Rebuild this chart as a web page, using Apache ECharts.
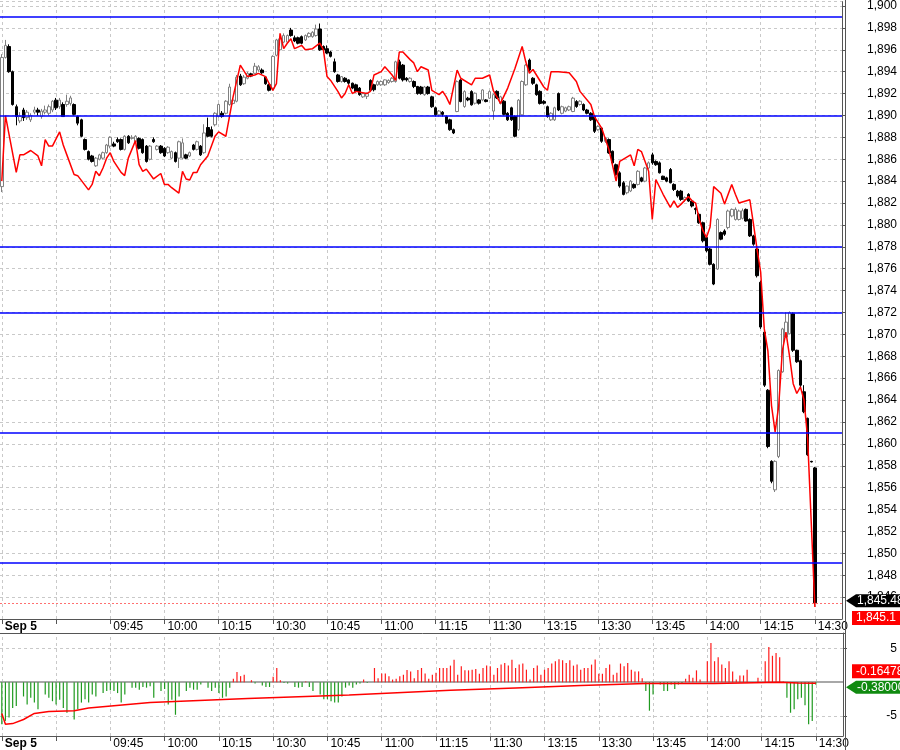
<!DOCTYPE html>
<html>
<head>
<meta charset="utf-8">
<script src="https://cdn.jsdelivr.net/npm/echarts@6.0.0/dist/echarts.min.js"></script>
<style>
html,body{margin:0;padding:0;background:#ffffff;}
#chart{width:900px;height:750px;}
</style>
</head>
<body>
<div id="chart"></div>
<script>
// ---------- DATA ----------
const sessions = [['09:15', '11:30'], ['13:01', '14:30']];
const padBars = 7;
const dateLabel = 'Sep 5';
const tickTimes = ['09:15','09:30','09:45','10:00','10:15','10:30','10:45','11:00','11:15','11:30','13:15','13:30','13:45','14:00','14:15','14:30'];
const labelTimes = ['09:15','09:45','10:00','10:15','10:30','10:45','11:00','11:15','11:30','13:15','13:30','13:45','14:00','14:15','14:30'];
const levels = [1899.0, 1890.0, 1878.0, 1872.0, 1861.0, 1849.1];

// candles: [open, close, low, high], one per minute
const candlesMorning = [
[1883.5,1895.3,1883.0,1895.6],[1895.3,1896.4,1895.2,1896.9],[1896.3,1894.0,1893.9,1896.5],[1894.0,1891.0,1890.9,1894.1],
[1890.8,1889.9,1889.1,1891.0],[1889.5,1889.9,1889.3,1890.3],[1890.5,1889.8,1889.5,1890.7],[1889.8,1890.3,1889.6,1890.5],
[1889.6,1890.0,1889.4,1890.2],[1890.3,1890.5,1890.1,1890.8],[1890.5,1890.3,1890.0,1890.7],[1889.9,1890.4,1889.7,1890.6],
[1890.3,1890.5,1890.1,1890.9],[1890.2,1890.8,1890.0,1891.0],[1890.5,1891.3,1890.3,1891.4],[1891.4,1890.7,1890.5,1891.6],
[1890.8,1891.4,1890.6,1891.6],[1891.0,1889.9,1889.9,1891.2],[1891.0,1891.3,1890.8,1891.9],[1891.1,1891.6,1890.9,1891.8],
[1891.0,1890.1,1890.0,1891.1],[1889.9,1889.3,1889.1,1890.0],[1889.6,1888.1,1888.0,1889.7],[1887.8,1886.9,1886.8,1887.9],
[1886.7,1886.0,1885.9,1886.8],[1886.3,1885.8,1885.7,1886.4],[1885.4,1886.1,1885.3,1886.2],[1886.0,1886.4,1885.9,1886.5],
[1886.1,1886.6,1886.0,1886.7],[1886.6,1887.3,1886.5,1887.4],[1887.2,1888.0,1887.0,1888.1],[1887.4,1887.2,1887.1,1887.6],
[1887.8,1887.6,1887.5,1888.0],[1887.8,1886.9,1886.8,1887.9],[1886.9,1888.1,1886.8,1888.2],[1888.1,1887.5,1887.4,1888.2],
[1887.9,1888.0,1887.8,1888.2],[1887.6,1888.1,1887.5,1888.2],[1887.9,1887.0,1886.9,1888.0],[1887.8,1886.6,1886.5,1887.9],
[1887.2,1885.8,1885.7,1887.3],[1886.0,1887.2,1885.9,1887.3],[1887.8,1887.6,1887.5,1888.0],[1886.9,1887.2,1886.8,1887.3],
[1887.2,1886.6,1886.5,1887.3],[1887.0,1886.3,1886.2,1887.1],[1886.6,1887.1,1886.5,1887.2],[1886.1,1886.7,1886.0,1886.8],
[1886.6,1885.8,1885.7,1886.7],[1886.1,1887.6,1885.2,1887.7],[1886.1,1887.5,1886.0,1887.9],[1886.4,1886.1,1886.0,1886.5],
[1886.3,1886.6,1886.2,1886.7],[1887.3,1886.9,1886.8,1887.4],[1886.9,1887.6,1886.8,1887.7],[1887.2,1886.4,1886.3,1887.3],
[1886.6,1888.4,1886.5,1889.2],[1888.9,1888.1,1888.0,1889.8],
[1888.7,1888.1,1888.0,1889.0],[1889.15,1890.2,1889.0,1890.3],[1889.9,1891.0,1889.8,1891.1],[1890.2,1889.9,1889.8,1890.4],
[1890.2,1891.3,1890.1,1891.4],[1891.0,1892.6,1890.9,1892.9],[1891.1,1891.4,1891.0,1891.6],[1891.3,1893.5,1891.2,1893.7],
[1893.6,1892.8,1892.7,1893.8],[1892.9,1893.5,1892.8,1893.7],[1893.4,1893.85,1893.3,1894.0],[1893.8,1893.6,1893.5,1893.9],
[1893.85,1894.5,1893.8,1894.8],[1894.15,1894.45,1894.0,1894.6],[1894.15,1893.9,1893.8,1894.3],[1893.5,1892.9,1892.8,1893.6],
[1892.8,1892.3,1892.2,1892.9],[1892.5,1895.4,1892.4,1895.5],[1895.5,1896.9,1895.4,1897.0],[1896.0,1897.0,1895.9,1897.2],
[1896.7,1897.3,1896.6,1897.5],[1896.7,1897.3,1896.6,1897.4],[1897.8,1897.3,1897.2,1898.0],[1897.1,1896.8,1896.7,1897.3],
[1897.1,1896.6,1896.5,1897.2],[1897.2,1896.6,1896.5,1897.3],[1896.9,1897.3,1896.8,1897.4],[1897.2,1897.5,1897.1,1897.6],
[1897.2,1897.6,1897.1,1897.7],[1897.3,1897.9,1897.2,1898.3],[1897.9,1896.0,1895.9,1898.4],[1896.3,1896.0,1895.9,1896.4],
[1896.1,1895.7,1895.6,1896.4],[1895.8,1895.4,1895.3,1895.9],[1894.9,1894.0,1893.9,1895.2],[1893.7,1893.1,1893.0,1893.8],
[1893.1,1893.55,1893.0,1893.6],[1893.4,1893.1,1893.0,1893.5],[1893.25,1892.95,1892.8,1893.3],[1892.95,1892.5,1892.4,1893.0],
[1892.8,1892.2,1892.1,1892.9],[1892.5,1891.9,1891.8,1892.6],[1891.7,1892.0,1891.6,1892.1],[1891.75,1892.0,1891.5,1892.1],
[1893.2,1892.3,1892.2,1893.3],[1892.8,1892.35,1892.2,1892.9],[1892.8,1893.1,1892.7,1893.2],[1892.8,1893.1,1892.7,1893.2],
[1892.8,1893.25,1892.7,1893.3],[1893.0,1893.2,1892.9,1893.3],[1893.1,1893.4,1893.0,1893.5],[1893.1,1894.9,1893.0,1895.0],
[1894.9,1893.4,1893.3,1895.1],[1894.6,1893.25,1893.1,1894.7],[1893.4,1893.25,1893.1,1893.5],[1893.1,1893.4,1893.0,1893.5],
[1893.1,1892.65,1892.5,1893.2],[1892.65,1892.0,1891.9,1892.7],[1892.6,1892.0,1891.9,1892.7],[1891.9,1892.6,1891.8,1892.7],
[1892.6,1892.0,1891.9,1892.7],
[1891.7,1890.8,1890.7,1891.8],[1890.7,1890.06,1889.9,1890.8],[1890.06,1890.4,1889.9,1890.5],[1890.3,1890.1,1889.9,1890.4],
[1889.9,1889.3,1889.2,1890.0],[1889.6,1888.7,1888.6,1889.7],[1888.7,1888.4,1888.3,1888.8],
[1890.36,1893.09,1890.3,1893.2],[1893.24,1891.27,1891.2,1893.3],[1890.82,1892.18,1890.7,1892.3],[1891.58,1891.42,1891.3,1891.7],
[1892.18,1890.97,1890.9,1892.3],[1891.12,1892.03,1891.0,1892.1],[1891.42,1891.12,1891.0,1891.5],[1891.42,1892.33,1891.3,1892.4],
[1891.42,1891.27,1891.2,1891.5],[1891.58,1892.18,1891.5,1892.3]
];
const candlesAfternoon = [
[1890.4,1891.9,1889.6,1892.0],[1892.2,1891.6,1891.5,1892.3],[1891.1,1891.7,1891.0,1891.8],[1891.3,1890.1,1890.0,1891.4],
[1890.2,1889.6,1889.5,1890.3],[1890.7,1889.6,1889.5,1890.8],[1889.9,1888.1,1888.0,1890.0],[1888.7,1891.4,1888.6,1891.5],
[1890.06,1893.1,1890.0,1893.2],[1892.8,1894.6,1892.7,1894.7],[1895.06,1894.15,1894.0,1895.2],[1893.4,1892.94,1892.8,1893.5],
[1892.8,1891.9,1891.8,1892.9],[1892.2,1891.1,1891.0,1892.3],[1891.27,1891.12,1891.0,1891.4],[1890.8,1889.9,1889.8,1890.9],
[1889.6,1890.2,1889.5,1890.3],[1889.6,1890.7,1889.5,1890.8],[1892.0,1890.5,1890.4,1892.1],[1890.2,1890.8,1890.1,1890.9],
[1890.4,1890.7,1890.3,1890.8],[1890.5,1890.8,1890.4,1890.9],[1890.36,1891.58,1890.3,1891.7],[1891.27,1890.82,1890.7,1891.4],
[1891.0,1891.3,1890.9,1891.4],[1891.0,1890.5,1890.4,1891.1],[1890.5,1890.2,1890.1,1890.6],[1890.2,1889.6,1889.5,1890.3],
[1889.9,1888.55,1888.4,1890.0],[1888.7,1889.0,1888.6,1889.1],[1888.85,1887.64,1887.5,1888.9],[1887.64,1887.94,1887.5,1888.0],
[1887.8,1886.58,1886.5,1887.9],[1886.73,1885.67,1885.5,1886.8],[1885.5,1884.6,1884.5,1885.6],[1884.76,1883.55,1883.4,1884.9],
[1883.85,1882.79,1882.7,1884.0],[1882.94,1883.55,1882.8,1883.6],[1883.1,1884.0,1883.0,1884.1],[1883.7,1883.4,1883.3,1883.8],
[1883.7,1884.9,1883.6,1885.0],[1884.3,1884.0,1883.9,1884.4],[1884.0,1885.2,1883.9,1885.3],[1885.2,1885.67,1885.1,1885.8],
[1886.4,1885.67,1885.5,1886.6],[1885.8,1885.5,1885.4,1885.9],[1885.67,1884.76,1884.7,1885.8],[1884.45,1884.15,1884.1,1884.5],
[1884.3,1884.0,1883.9,1884.4],[1885.06,1883.85,1883.8,1885.2],[1883.7,1883.24,1883.1,1883.8],[1883.09,1882.64,1882.5,1883.2],
[1883.09,1882.33,1882.2,1883.2],[1882.3,1882.5,1882.1,1882.6],[1882.79,1882.18,1882.1,1882.9],[1882.18,1881.73,1881.6,1882.3],
[1881.5,1881.4,1880.97,1881.6],[1880.97,1880.2,1880.1,1881.1],[1880.2,1878.55,1878.4,1880.3],[1878.85,1877.64,1877.5,1879.0],
[1877.8,1876.4,1876.3,1877.9],[1876.4,1874.6,1874.5,1876.5],[1875.97,1880.5,1875.9,1880.6],[1879.3,1878.7,1878.6,1879.4],
[1879.45,1879.15,1879.0,1879.6],[1879.76,1881.27,1879.6,1881.4],[1880.82,1881.42,1880.7,1881.5],[1880.5,1881.42,1880.4,1881.6],
[1880.5,1881.27,1880.4,1881.4],[1880.6,1881.3,1880.5,1881.5],[1881.42,1880.36,1880.3,1881.5],[1880.5,1879.0,1878.9,1880.6],
[1879.0,1878.24,1878.1,1879.1],[1877.8,1875.36,1875.2,1877.9],[1874.76,1870.67,1870.5,1874.9],[1870.2,1865.36,1865.2,1870.3],
[1864.9,1859.76,1859.6,1865.0],[1858.4,1856.58,1856.4,1858.5],[1855.8,1858.4,1855.6,1858.5],[1858.85,1866.7,1858.7,1866.8],
[1866.58,1870.5,1866.5,1870.6],[1869.76,1871.12,1869.7,1872.03],[1870.06,1872.0,1870.0,1872.1],[1871.88,1868.55,1868.4,1872.0],
[1868.55,1867.5,1867.4,1868.6],[1867.6,1865.36,1865.2,1867.7],[1864.76,1862.94,1862.8,1865.36],[1862.33,1859.0,1858.9,1862.4],
[1858.4,1858.35,1858.3,1858.45],[1857.8,1845.48,1845.36,1857.9]
];

// red comparison line: [bar index, value]
const redLine = [
[0,1884.0],[1,1890.0],[4,1884.8],[5,1886.4],[6,1886.4],[8,1886.8],[10,1886.3],[11,1885.4],[12,1887.8],[13,1887.2],[14,1887.2],
[16,1888.5],[17,1887.3],[18,1886.4],[20,1884.6],[21,1884.5],[24,1883.2],[25,1883.7],[26,1884.9],[27,1884.5],[28,1885.2],[29,1886.1],
[30,1886.6],[31,1885.8],[33,1884.8],[34,1884.5],[35,1886.1],[37,1887.7],[38,1885.5],[39,1884.9],[40,1885.1],[42,1884.2],[44,1884.7],
[45,1883.7],[46,1883.7],[47,1883.4],[49,1882.9],[50,1884.9],[51,1884.2],[52,1884.1],[53,1884.8],[54,1884.8],[55,1885.5],[57,1886.3],
[59,1888.1],[60,1888.5],[62,1888.1],[63,1889.9],[64,1891.7],[66,1894.6],[68,1893.55],[70,1893.7],[71,1893.85],[73,1893.55],[74,1892.9],
[75,1892.3],[76,1892.9],[77,1897.5],[78,1896.1],[79,1896.6],[80,1897.0],[81,1896.1],[83,1896.4],[84,1896.0],[86,1896.1],[88,1896.6],
[89,1896.0],[90,1893.55],[91,1893.2],[93,1892.2],[94,1891.6],[95,1892.0],[96,1892.8],[97,1892.0],[98,1892.2],[101,1892.0],[102,1892.2],
[103,1893.7],[105,1894.0],[106,1894.45],[108,1893.7],[109,1893.2],[110,1895.8],[111,1895.8],[113,1895.1],[114,1894.8],[115,1894.0],
[116,1894.45],[118,1894.15],[119,1892.3],[121,1891.9],[122,1892.2],[123,1891.7],[124,1891.0],[126,1894.15],[127,1893.4],[130,1892.8],
[131,1893.4],[133,1893.4],[135,1893.7],[136,1892.3],[138,1891.1],[140,1892.5],[142,1894.3],[144,1896.3],[145,1894.9],[146,1893.85],
[147,1894.2],[150,1892.6],[151,1892.3],[152,1894.0],[154,1894.0],[157,1893.9],[159,1893.1],[160,1892.2],[163,1891.0],[164,1889.9],
[166,1888.85],[168,1886.9],[170,1884.0],[171,1885.8],[174,1886.4],[175,1885.4],[176,1886.9],[177,1886.7],[179,1884.9],[180,1880.5],
[181,1884.15],[183,1882.8],[185,1881.6],[186,1882.2],[187,1881.6],[188,1881.9],[190,1882.6],[191,1882.2],[192,1882.0],[193,1880.5],
[194,1879.5],[195,1878.85],[196,1879.8],[197,1883.5],[199,1882.9],[200,1881.9],[202,1883.7],[203,1882.8],[204,1882.0],[207,1882.3],
[208,1880.1],[209,1877.8],[210,1875.7],[211,1870.5],[212,1868.5],[213,1863.5],[214,1861.1],[215,1863.5],[216,1868.5],[217,1870.2],
[218,1868.0],[219,1865.5],[220,1864.6],[221,1865.2],[222,1864.0],[223,1860.5],[224,1852.8],[225,1845.1]
];

// lower panel histogram: [bar index, value]
const lowerBars = [
[0,-6.2],[1,-5.7],[2,-5.2],[3,-3.8],[4,-3.5],[6,-2.1],[7,-3.3],[8,-2.3],[9,-3.0],[10,-4.0],[12,-1.8],[13,-2.3],[14,-2.8],[15,-3.3],
[16,-2.6],[17,-3.8],[18,-4.5],[20,-5.5],[21,-4.0],[22,-3.0],[23,-2.5],[24,-3.0],[25,-1.8],[26,-2.1],[28,-1.6],[29,-1.3],[30,-1.2],
[31,-1.3],[32,-1.6],[33,-3.0],[34,-1.8],[36,-0.8],[37,-0.8],[38,-1.1],[39,-0.7],[40,-0.8],[41,-0.6],[42,-2.3],[44,-1.3],[45,-1.0],
[46,-3.3],[47,-2.6],[48,-4.8],[49,-2.1],[51,-1.3],[52,-0.8],[53,-1.1],[54,-1.1],[55,-0.35],[57,-0.8],[58,-1.3],[59,-0.8],[60,-1.6],
[61,-2.3],[62,-2.1],[63,-0.8],[64,0.5],[65,1.5],[66,0.9],[67,1.1],[69,0.3],[70,-0.2],[72,-0.5],[73,-0.7],[74,-0.7],[75,0.8],[76,2.1],
[77,0.3],[78,-0.1],[79,-0.2],[81,-0.7],[82,-0.8],[83,-0.7],[84,0.1],[85,-0.7],[86,-1.3],[88,-1.8],[89,-2.5],[90,-2.5],[91,-2.8],
[92,-3.0],[93,-3.0],[94,-2.1],[95,-0.8],[96,-0.5],[97,-0.8],[98,-0.35],[99,-0.2],[100,0.4],[101,-0.1],[103,2.1],[104,0.6],[105,1.3],
[106,1.3],[107,0.9],[108,0.4],[109,0.5],[110,0.9],[111,1.1],[112,1.8],[113,1.6],[114,0.6],[115,1.8],[116,2.1],[117,1.3],[118,0.5],
[119,1.1],[120,1.4],[121,2.1],[122,2.1],[123,2.1],[124,2.45],[125,3.3],[126,1.1],[127,2.35],[128,1.75],[129,1.75],[130,1.85],
[131,1.95],[132,1.25],[133,2.1],[134,2.45],[135,2.35],[136,1.1],[137,2.1],[138,2.6],[139,2.85],[140,2.45],[141,3.3],[142,2.1],
[143,2.6],[144,2.75],[145,1.85],[146,0.4],[147,2.1],[148,2.45],[149,1.1],[150,1.85],[151,2.1],[152,2.75],[153,3.1],[154,3.4],
[155,3.25],[156,2.85],[157,3.25],[158,2.45],[159,2.6],[160,1.85],[161,2.1],[162,2.1],[163,2.6],[164,3.35],[165,1.25],[166,1.25],
[167,2.1],[168,2.6],[169,1.1],[170,1.4],[171,2.75],[172,2.35],[173,2.85],[174,1.85],[175,1.6],[176,1.6],[177,0.6],[178,-1.3],
[179,-4.2],[180,-1.8],[182,-0.35],[183,-1.3],[184,-1.3],[185,-0.35],[186,-1.0],[187,-0.35],[188,-0.1],[189,0.5],[190,1.1],[191,0.65],
[192,1.75],[193,0.4],[195,3.1],[196,5.8],[197,3.1],[198,3.7],[199,2.6],[200,2.1],[201,3.1],[202,1.6],[203,0.4],[204,1.0],[205,1.0],
[206,1.85],[209,0.65],[211,3.1],[212,5.2],[213,3.9],[214,4.3],[215,3.7],[216,0.1],[217,-2.3],[218,-4.5],[219,-4.0],[220,-2.5],
[221,-2.3],[222,-3.4],[223,-6.2],[224,-5.7],[225,-0.38]
];
// lower panel red line: [bar index, value]
const lowerLine = [
[0,-4.6],[1,-6.2],[3,-6.1],[6,-5.5],[9,-4.6],[13,-4.3],[20,-4.2],[24,-3.8],[41,-3.0],[68,-2.4],[96,-1.9],[124,-1.2],
[142,-0.85],[160,-0.5],[178,-0.2],[197,-0.2],[215,0.0],[220,-0.1],[225,-0.16478]
];

// ---------- BUILD ----------
const FONT = "'Liberation Sans', Arial, Helvetica, sans-serif";
function toMin(s) { const p = s.split(':'); return (+p[0]) * 60 + (+p[1]); }
function fromMin(t) { return String(Math.floor(t / 60)).padStart(2, '0') + ':' + String(t % 60).padStart(2, '0'); }
const categories = [];
sessions.forEach(function (s) { for (let t = toMin(s[0]); t <= toMin(s[1]); t++) categories.push(fromMin(t)); });
for (let k = 0; k < padBars; k++) categories.push('_' + k);
const candles = candlesMorning.concat(candlesAfternoon);

const tickIdx = new Set(tickTimes.map(function (t) { return categories.indexOf(t); }));
const labelIdx = new Map(labelTimes.map(function (t, k) { return [categories.indexOf(t), k === 0 ? '{b|' + dateLabel + '}' : t]; }));

function withComma(v, dec) {
  const s = dec == null ? String(v) : v.toFixed(dec);
  const neg = s[0] === '-';
  const body = neg ? s.slice(1) : s;
  const parts = body.split('.');
  const ip = parts[0].replace(/\B(?=(\d{3})+(?!\d))/g, ',');
  return (neg ? '-' : '') + ip + (parts.length > 1 ? '.' + parts[1] : '');
}

const AX = '#555555';
const GRIDC = '#c9c9c9';

function timeAxis(gridIndex) {
  return {
    type: 'category', gridIndex: gridIndex, data: categories, boundaryGap: true, position: 'bottom',
    axisLine: { show: true, onZero: false, lineStyle: { color: AX, width: 1 } },
    axisTick: { show: true, alignWithLabel: true, length: 5, interval: function (i) { return tickIdx.has(i); }, lineStyle: { color: AX } },
    axisLabel: {
      show: true, interval: function (i) { return labelIdx.has(i); },
      formatter: function (v, i) { return labelIdx.get(i) || ''; },
      align: 'left', margin: 2, padding: [0, 0, 0, 3], fontSize: 12, color: '#000', fontFamily: FONT,
      rich: { b: { fontWeight: 'bold', fontSize: 12, color: '#000', fontFamily: FONT } }
    },
    splitLine: { show: false }
  };
}

const vGrid = tickTimes.map(function (t) { return { xAxis: categories.indexOf(t) }; });

const option = {
  animation: false,
  backgroundColor: '#ffffff',
  grid: [
    { left: 0, right: 55, top: 0, height: 619, containLabel: false },
    { left: 0, right: 55, top: 633, height: 104, containLabel: false }
  ],
  xAxis: [timeAxis(0), timeAxis(1)],
  yAxis: [
    {
      type: 'value', gridIndex: 0, position: 'right', min: 1844, max: 1900.4, interval: 2,
      axisLine: { show: true, lineStyle: { color: AX } },
      axisTick: { show: true, length: 4, lineStyle: { color: AX } },
      axisLabel: { margin: 25, fontSize: 12, color: '#000', fontFamily: FONT, showMinLabel: false, showMaxLabel: false,
        formatter: function (v) { return withComma(v, 0); } },
      splitLine: { show: true, lineStyle: { color: GRIDC, type: [3, 3], width: 1 } }
    },
    {
      type: 'value', gridIndex: 1, position: 'right', min: -7.93, max: 7.26,
      axisLine: { show: true, lineStyle: { color: AX } },
      axisTick: { show: true, length: 4, customValues: [5, -5], lineStyle: { color: AX } },
      axisLabel: { customValues: [5, -5], align: 'right', margin: 54, fontSize: 12, color: '#000', fontFamily: FONT },
      splitLine: { show: false }
    }
  ],
  series: [
    { // vertical grid lines, main panel
      type: 'line', xAxisIndex: 0, yAxisIndex: 0, data: [], z: 0, silent: true,
      markLine: { z: 0, silent: true, symbol: 'none', animation: false, label: { show: false },
        lineStyle: { color: GRIDC, type: [3, 3], width: 1 }, data: vGrid }
    },
    { // vertical + horizontal grid lines, lower panel
      type: 'line', xAxisIndex: 1, yAxisIndex: 1, data: [], z: 0, silent: true,
      markLine: { z: 0, silent: true, symbol: 'none', animation: false, label: { show: false },
        lineStyle: { color: GRIDC, type: [3, 3], width: 1 },
        data: vGrid.concat([{ yAxis: 5 }, { yAxis: -5 },
          { yAxis: 0, lineStyle: { color: '#a8a8a8', type: 'solid', width: 2 } }]) }
    },
    {
      name: 'price', type: 'candlestick', xAxisIndex: 0, yAxisIndex: 0, data: candles, z: 3, barWidth: 3,
      itemStyle: { color: '#ffffff', color0: '#000000', borderColor: '#808080', borderColor0: '#000000', borderWidth: 1 }
    },
    {
      name: 'compare', type: 'line', xAxisIndex: 0, yAxisIndex: 0, data: redLine, z: 4, showSymbol: false, symbol: 'none',
      lineStyle: { color: '#ff0000', width: 1.5 }
    },
    { // horizontal levels + last price line
      type: 'line', xAxisIndex: 0, yAxisIndex: 0, data: [], z: 6, silent: true,
      markLine: { z: 6, silent: true, symbol: 'none', animation: false, label: { show: false },
        lineStyle: { color: '#0000ff', type: 'solid', width: 1.6 },
        data: levels.map(function (v) { return { yAxis: v }; }).concat([
          { yAxis: candles[candles.length - 1][1], lineStyle: { color: '#ff7070', type: [2, 2], width: 1 } }
        ]) }
    },
    {
      name: 'hist', type: 'bar', xAxisIndex: 1, yAxisIndex: 1, data: lowerBars, z: 2, barWidth: 1.2,
      itemStyle: { color: function (p) { return p.value[1] >= 0 ? '#ff1a1a' : '#1f9a1f'; } }
    },
    {
      name: 'avg', type: 'line', xAxisIndex: 1, yAxisIndex: 1, data: lowerLine, z: 4, showSymbol: false, symbol: 'none',
      lineStyle: { color: '#ff0000', width: 1.5 }
    }
  ]
};

const chart = echarts.init(document.getElementById('chart'), null, { renderer: 'canvas' });
chart.setOption(option);

// ---------- value tags on the right axis ----------
function arrowTag(y, text, bg, fg) {
  return { type: 'group', z: 100, children: [
    { type: 'polygon', z: 100, shape: { points: [[846, y], [856, y - 6.5], [900, y - 6.5], [900, y + 6.5], [856, y + 6.5]] }, style: { fill: bg } },
    { type: 'text', z: 101, x: 857, y: y, style: { text: text, fill: fg, font: '12px ' + FONT, verticalAlign: 'middle' } }
  ] };
}
function boxTag(y, text, bg, fg) {
  return { type: 'group', z: 100, children: [
    { type: 'rect', z: 100, shape: { x: 852, y: y - 7, width: 48, height: 14 }, style: { fill: bg } },
    { type: 'text', z: 101, x: 856, y: y, style: { text: text, fill: fg, font: '12px ' + FONT, verticalAlign: 'middle' } }
  ] };
}
const lastClose = candles[candles.length - 1][1];
const lastRed = redLine[redLine.length - 1][1];
const lastAvg = lowerLine[lowerLine.length - 1][1];
const lastBar = lowerBars[lowerBars.length - 1][1];
const yC = chart.convertToPixel({ yAxisIndex: 0 }, lastClose);
const yR = chart.convertToPixel({ yAxisIndex: 0 }, lastRed);
const yA = chart.convertToPixel({ yAxisIndex: 1 }, lastAvg);
const yB = chart.convertToPixel({ yAxisIndex: 1 }, lastBar);

chart.setOption({
  graphic: [
    { type: 'line', z: 90, shape: { x1: 845.5, y1: 0, x2: 845.5, y2: 750 }, style: { stroke: AX, lineWidth: 1 } },
    { type: 'line', z: 90, shape: { x1: 0, y1: 633.5, x2: 845, y2: 633.5 }, style: { stroke: AX, lineWidth: 1 } },
    arrowTag(yC - 2, withComma(lastClose, 2), '#000000', '#ffffff'),
    boxTag(yR + 11, withComma(lastRed), '#ff0000', '#ffffff'),
    boxTag(yA - 12, lastAvg.toFixed(5), '#ff0000', '#ffffff'),
    arrowTag(yB + 2.5, lastBar.toFixed(5), '#108a10', '#ffffff')
  ]
});
</script>
</body>
</html>
